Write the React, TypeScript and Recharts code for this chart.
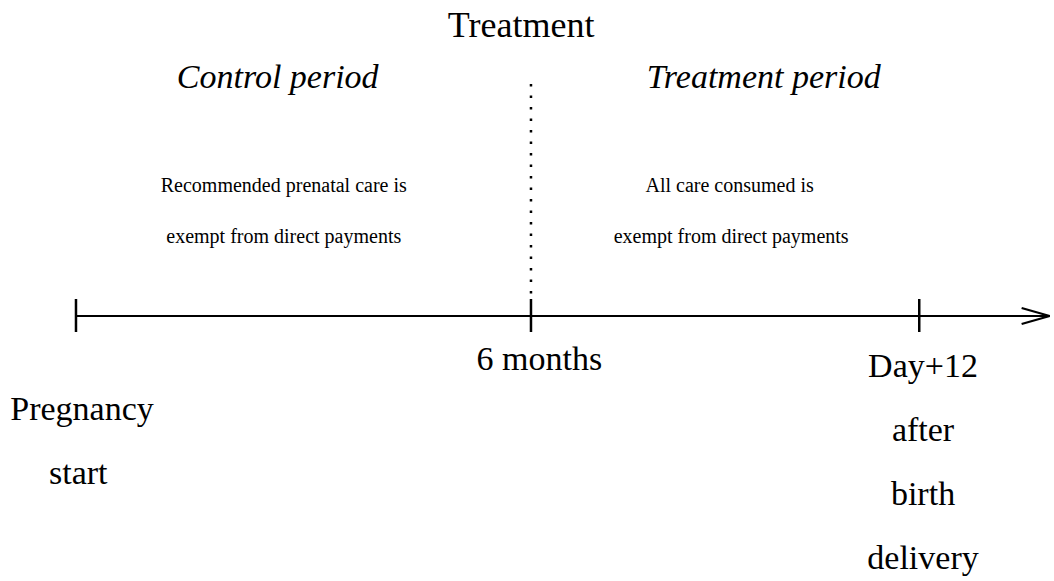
import { ComposedChart, XAxis, YAxis, ReferenceLine, Scatter } from 'recharts';

// timeline positions (x in months from pregnancy start)
const TICKS = [0, 6, 11.12];
const ARROW_END = 12.84;
const TREATMENT_START = 6;

// vertical layout units: 0 = the timeline, positive = above
const TITLES = [
  { x: 5.87, y: 279, text: 'Treatment', size: 36, italic: false },
  { x: 2.66, y: 228, text: 'Control period', size: 34, italic: true },
  { x: 9.07, y: 228, text: 'Treatment period', size: 34, italic: true },
];

const PERIOD_NOTES = [
  { x: 2.74, y: 124, text: 'Recommended prenatal care is', size: 20, italic: false },
  { x: 2.74, y: 73, text: 'exempt from direct payments', size: 20, italic: false },
  { x: 8.62, y: 124, text: 'All care consumed is', size: 20, italic: false },
  { x: 8.64, y: 73, text: 'exempt from direct payments', size: 20, italic: false },
];

const TICK_LABELS = [
  { x: 0.08, y: -104, text: 'Pregnancy', size: 34, italic: false },
  { x: 0.03, y: -168, text: 'start', size: 34, italic: false },
  { x: 6.11, y: -54, text: '6 months', size: 34, italic: false },
  { x: 11.17, y: -61, text: 'Day+12', size: 34, italic: false },
  { x: 11.17, y: -125, text: 'after', size: 34, italic: false },
  { x: 11.17, y: -189, text: 'birth', size: 34, italic: false },
  { x: 11.17, y: -253, text: 'delivery', size: 34, italic: false },
];

const ALL_TEXT = [...TITLES, ...PERIOD_NOTES, ...TICK_LABELS];

const FONT = '"Liberation Serif", "Times New Roman", serif';

function TextMark(props: any) {
  const { cx, cy, payload } = props;
  return (
    <text
      x={cx}
      y={cy}
      textAnchor="middle"
      fontFamily={FONT}
      fontSize={payload.size}
      fontStyle={payload.italic ? 'italic' : 'normal'}
      fill="#000"
    >
      {payload.text}
    </text>
  );
}

export default function App() {
  return (
    <div style={{ position: 'absolute', left: 0, top: 0, background: '#fff' }}>
      <ComposedChart width={1054} height={581} margin={{ top: 0, right: 0, bottom: 0, left: 0 }}>
        <XAxis type="number" dataKey="x" domain={[-1.002, 12.897]} allowDataOverflow hide />
        <YAxis type="number" dataKey="y" domain={[-265, 316]} allowDataOverflow hide />
        {/* main timeline */}
        <ReferenceLine
          segment={[{ x: TICKS[0], y: 0 }, { x: ARROW_END, y: 0 }]}
          stroke="#000"
          strokeWidth={2.2}
          ifOverflow="visible"
        />
        {/* arrow head */}
        <ReferenceLine
          segment={[{ x: ARROW_END - 0.37, y: 8 }, { x: ARROW_END, y: 0 }]}
          stroke="#000"
          strokeWidth={2.2}
          ifOverflow="visible"
        />
        <ReferenceLine
          segment={[{ x: ARROW_END - 0.37, y: -8 }, { x: ARROW_END, y: 0 }]}
          stroke="#000"
          strokeWidth={2.2}
          ifOverflow="visible"
        />
        {TICKS.map((t) => (
          <ReferenceLine
            key={t}
            segment={[{ x: t, y: 17 }, { x: t, y: -16 }]}
            stroke="#000"
            strokeWidth={2.5}
            ifOverflow="visible"
          />
        ))}
        {/* treatment start */}
        <ReferenceLine
          segment={[{ x: TREATMENT_START, y: 232 }, { x: TREATMENT_START, y: 18 }]}
          stroke="#000"
          strokeWidth={2.5}
          strokeDasharray="2.5 9"
          ifOverflow="visible"
        />
        <Scatter data={ALL_TEXT} shape={TextMark} isAnimationActive={false} />
      </ComposedChart>
    </div>
  );
}
